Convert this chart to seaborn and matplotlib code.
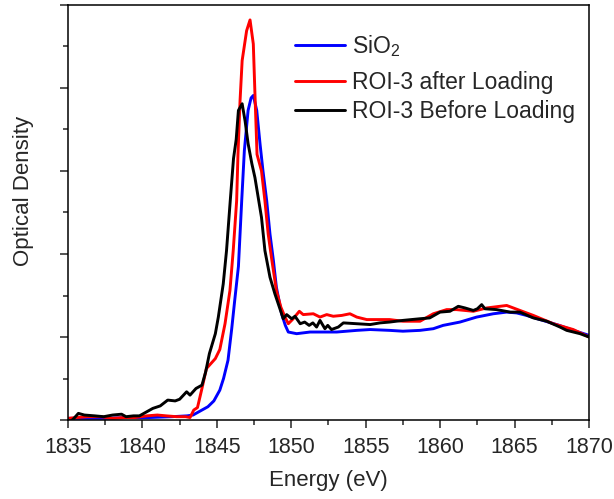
import numpy as np
import pandas as pd
import seaborn as sns
import matplotlib
matplotlib.use("Agg")
import matplotlib.pyplot as plt
from matplotlib.ticker import MultipleLocator, NullFormatter

# Values (energy in eV, optical density in arb. units)
energy_sio2 = [1835.0, 1836.0, 1837.5, 1839.0, 1840.5, 1842.0, 1843.0, 1843.4, 1843.9,
               1844.4, 1844.8, 1845.2, 1845.45, 1845.75, 1846.0, 1846.2, 1846.45, 1846.67,
               1846.85, 1847.1, 1847.3, 1847.45, 1847.68, 1847.9, 1848.1, 1848.35, 1848.57,
               1848.8, 1849.0, 1849.35, 1849.6, 1849.8, 1850.36, 1851.26, 1853.05, 1854.4,
               1855.3, 1856.6, 1857.5, 1858.65, 1859.54, 1860.2, 1861.33, 1862.45, 1863.57,
               1864.47, 1865.14, 1865.8, 1866.9, 1868.0, 1868.94, 1870.0]
od_sio2 = [0.02, 0.02, 0.02, 0.03, 0.03, 0.04, 0.05, 0.06, 0.11,
           0.16, 0.23, 0.36, 0.50, 0.72, 1.10, 1.44, 1.85, 2.64,
           3.25, 3.73, 3.88, 3.91, 3.73, 3.33, 3.0, 2.64, 2.24,
           1.92, 1.60, 1.28, 1.14, 1.06, 1.04, 1.06, 1.06, 1.08,
           1.09, 1.08, 1.07, 1.08, 1.10, 1.14, 1.18, 1.24, 1.28,
           1.30, 1.29, 1.26, 1.20, 1.14, 1.08, 1.02]

energy_after = [1835.0, 1835.6, 1836.3, 1837.2, 1838.0, 1838.8, 1839.5, 1840.3, 1841.0,
                1841.6, 1842.3, 1842.9, 1843.2, 1843.45, 1843.7, 1844.0, 1844.3, 1844.6,
                1844.9, 1845.2, 1845.55, 1845.88, 1846.1, 1846.33, 1846.42, 1846.56, 1846.7,
                1847.0, 1847.23, 1847.45, 1847.56, 1847.7, 1848.0, 1848.23, 1848.45, 1848.7,
                1849.0, 1849.3, 1849.58, 1849.8, 1850.13, 1850.54, 1850.8, 1851.48, 1851.93,
                1852.38, 1852.82, 1853.39, 1853.94, 1854.4, 1855.07, 1856.6, 1857.5, 1858.65,
                1859.54, 1860.44, 1861.1, 1862.23, 1863.13, 1864.47, 1865.36, 1866.26, 1867.6,
                1868.94, 1870.0]
od_after = [0.02, 0.03, 0.04, 0.04, 0.02, 0.03, 0.03, 0.05, 0.06,
            0.05, 0.04, 0.04, 0.03, 0.12, 0.15, 0.38, 0.62, 0.68,
            0.74, 0.85, 1.16, 1.56, 2.04, 2.64, 3.2, 3.85, 4.33,
            4.69, 4.82, 4.53, 3.93, 3.2, 3.0, 2.64, 2.24, 1.92,
            1.56, 1.36, 1.24, 1.16, 1.22, 1.31, 1.27, 1.28, 1.24,
            1.27, 1.25, 1.26, 1.28, 1.24, 1.21, 1.21, 1.19, 1.19,
            1.28, 1.33, 1.33, 1.31, 1.35, 1.38, 1.32, 1.26, 1.16,
            1.09, 1.00]

energy_before = [1835.0, 1835.15, 1835.35, 1835.7, 1836.1, 1836.8, 1837.4, 1838.0, 1838.6,
                 1838.9, 1839.4, 1839.8, 1840.3, 1840.7, 1841.2, 1841.7, 1842.2, 1842.5,
                 1842.97, 1843.2, 1843.6, 1844.0, 1844.25, 1844.5, 1844.9, 1845.1, 1845.43,
                 1845.65, 1845.9, 1846.12, 1846.3, 1846.45, 1846.7, 1846.9, 1847.1, 1847.35,
                 1847.56, 1848.0, 1848.23, 1848.57, 1848.9, 1849.35, 1849.46, 1849.69, 1850.03,
                 1850.25, 1850.6, 1850.9, 1851.2, 1851.45, 1851.7, 1851.93, 1852.26, 1852.45,
                 1852.7, 1853.16, 1853.5, 1854.4, 1855.3, 1855.96, 1856.6, 1857.5, 1858.65,
                 1859.3, 1859.99, 1860.66, 1861.22, 1861.67, 1862.23, 1862.5, 1862.79, 1863.01,
                 1863.8, 1864.7, 1865.36, 1866.26, 1867.16, 1868.05, 1868.5, 1869.4, 1870.0]
od_before = [0.0, -0.02, 0.01, 0.08, 0.06, 0.05, 0.04, 0.06, 0.07,
             0.04, 0.05, 0.05, 0.10, 0.14, 0.17, 0.24, 0.23, 0.25,
             0.34, 0.30, 0.38, 0.42, 0.58, 0.80, 1.04, 1.24, 1.64,
             2.04, 2.64, 3.15, 3.38, 3.73, 3.81, 3.6, 3.33, 3.09,
             2.92, 2.44, 2.04, 1.72, 1.52, 1.28, 1.22, 1.27, 1.22,
             1.25, 1.16, 1.18, 1.14, 1.17, 1.12, 1.20, 1.10, 1.14,
             1.09, 1.12, 1.17, 1.16, 1.15, 1.17, 1.18, 1.20, 1.22,
             1.23, 1.30, 1.31, 1.37, 1.35, 1.32, 1.34, 1.39, 1.34,
             1.33, 1.30, 1.30, 1.23, 1.19, 1.12, 1.08, 1.04, 1.00]

series_names = ["SiO$_2$", "ROI-3 after Loading", "ROI-3 Before Loading"]
series_colors = ["#0000ff", "#ff0000", "#000000"]

x_ticks = [1835, 1840, 1845, 1850, 1855, 1860, 1865, 1870]


def build_frame():
    parts = []
    for name, xs, ys in zip(series_names,
                            [energy_sio2, energy_after, energy_before],
                            [od_sio2, od_after, od_before]):
        parts.append(pd.DataFrame({"energy": xs, "od": ys, "sample": name}))
    return pd.concat(parts, ignore_index=True)


sns.set_style("ticks")
plt.rcParams["font.family"] = ["Liberation Sans", "DejaVu Sans"]
plt.rcParams["mathtext.default"] = "regular"

df = build_frame()

fig, ax = plt.subplots(figsize=(6.14, 4.99), dpi=100)
fig.subplots_adjust(left=0.1107, right=0.9593, top=0.99, bottom=0.1583)

sns.lineplot(data=df, x="energy", y="od", hue="sample", hue_order=series_names,
             palette=dict(zip(series_names, series_colors)), estimator=None,
             linewidth=2.1, ax=ax)

ax.set_xlim(1835, 1870)
ax.set_ylim(0, 5)
ax.set_xticks(x_ticks)
ax.xaxis.set_minor_locator(MultipleLocator(2.5))
ax.yaxis.set_major_locator(MultipleLocator(1))
ax.yaxis.set_minor_locator(MultipleLocator(0.5))
ax.yaxis.set_major_formatter(NullFormatter())

ax.tick_params(axis="both", which="major", direction="out", length=6, width=1.1,
               labelsize=15.5, pad=6, top=False, right=False)
ax.tick_params(axis="both", which="minor", direction="out", length=3.5, width=1.1,
               top=False, right=False)
for side in ["left", "right", "top", "bottom"]:
    ax.spines[side].set_visible(True)
    ax.spines[side].set_linewidth(1.1)
    ax.spines[side].set_color("black")

ax.set_xlabel("Energy (eV)", fontsize=16, labelpad=9)
ax.set_ylabel("Optical Density", fontsize=16)
ax.yaxis.set_label_coords(-0.065, 0.552)

# two legend blocks: the subscripted row sits a bit apart from the other two
handles, labels = ax.get_legend_handles_labels()
ax.get_legend().remove()
leg_kw = dict(frameon=False, fontsize=16.5, handlelength=2.2, handletextpad=0.3,
              labelspacing=0.25, borderaxespad=0, borderpad=0, loc="center left")
leg_top = ax.legend(handles[:1], labels[:1], bbox_to_anchor=(0.4357, 0.902), **leg_kw)
ax.add_artist(leg_top)
ax.legend(handles[1:], labels[1:], bbox_to_anchor=(0.4357, 0.778), **leg_kw)

fig.savefig("out.png", dpi=100)
